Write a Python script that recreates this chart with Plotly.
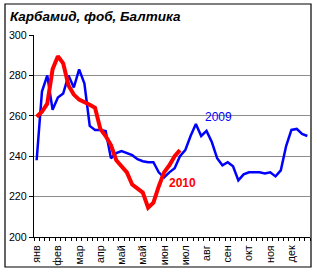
import plotly.graph_objects as go

month_labels = ["янв", "фев", "мар", "апр", "май", "май", "июн", "июл",
                "авг", "сен", "окт", "ноя", "дек"]

weeks = list(range(52))

urea_2009 = [238, 272, 280, 263, 269, 271, 280, 274, 283, 276,
             255, 253, 253, 252.5, 239, 241.5, 242.5, 241.5, 240.5, 238.5,
             237.5, 237, 237, 232, 229.5, 232, 234, 240, 243, 250,
             256, 250, 252.5, 247, 239, 235.5, 237, 235, 228, 231,
             232, 232, 232, 231.5, 232, 230, 233, 245, 253, 253.5,
             251, 250]

urea_2010 = [259.5, 262, 266, 283, 289.5, 286, 275, 270.5, 268, 267,
             265.5, 264, 253.5, 250, 245.5, 238, 235, 232, 226, 224,
             222, 214.5, 217, 225, 232, 235.5, 240, 243]

title_text = "Карбамид, фоб, Балтика"
label_2009 = "2009"
label_2010 = "2010"

FONT = "Arial, 'Liberation Sans', sans-serif"

fig = go.Figure()
fig.add_trace(go.Scatter(x=weeks, y=urea_2009, mode="lines",
                         line=dict(color="#0000FF", width=2.5),
                         showlegend=False, hoverinfo="skip"))
fig.add_trace(go.Scatter(x=weeks[:len(urea_2010)], y=urea_2010, mode="lines",
                         line=dict(color="#FF0000", width=4),
                         showlegend=False, hoverinfo="skip"))

tickpos = [i * 4 for i in range(len(month_labels))]

fig.update_layout(
    width=317, height=273,
    margin=dict(l=34, r=7, t=35, b=36),
    paper_bgcolor="white", plot_bgcolor="white",
    font=dict(family=FONT, size=10.7, color="black"),
    xaxis=dict(
        range=[-0.5, 51.5], tickmode="array", tickvals=tickpos,
        ticktext=month_labels, tickangle=-90, ticks="",
        ticklabelstandoff=3,
        showgrid=False, zeroline=False,
        showline=True, linecolor="black", linewidth=1.2,
        tickfont=dict(family=FONT, size=10.7, color="black"),
        minor=dict(tickmode="linear", tick0=-0.5, dtick=1, ticks="outside",
                   ticklen=3, tickcolor="black", tickwidth=1, showgrid=False),
        fixedrange=True,
    ),
    yaxis=dict(
        range=[200, 300], tickmode="linear", tick0=200, dtick=20,
        ticks="outside", ticklen=4, tickcolor="black",
        showgrid=True, gridcolor="#8c8c8c", gridwidth=1,
        zeroline=False, showline=True, linecolor="black", linewidth=1.2,
        tickfont=dict(family=FONT, size=10.7, color="black"),
        fixedrange=True,
    ),
    shapes=[
        dict(type="rect", xref="paper", yref="paper",
             x0=(5 - 34) / 276, x1=(311 - 34) / 276,
             y0=(237 - 267) / 202, y1=1 + (35 - 4) / 202,
             line=dict(color="black", width=1.2), layer="above"),
    ],
    annotations=[
        dict(text="<b><i>" + title_text + "</i></b>", xref="paper", yref="paper",
             x=(8 - 34) / 276, y=1 + (35 - 17) / 202, xanchor="left", yanchor="middle",
             showarrow=False, font=dict(family=FONT, size=13.5, color="black")),
        dict(text=label_2009, xref="x", yref="y", x=34.2, y=259.5,
             showarrow=False, font=dict(family=FONT, size=12, color="#0000FF")),
        dict(text="<b>" + label_2010 + "</b>", xref="x", yref="y", x=27.5, y=226.5,
             showarrow=False, font=dict(family=FONT, size=12, color="#FF0000")),
    ],
)

fig.write_html("out.html")
